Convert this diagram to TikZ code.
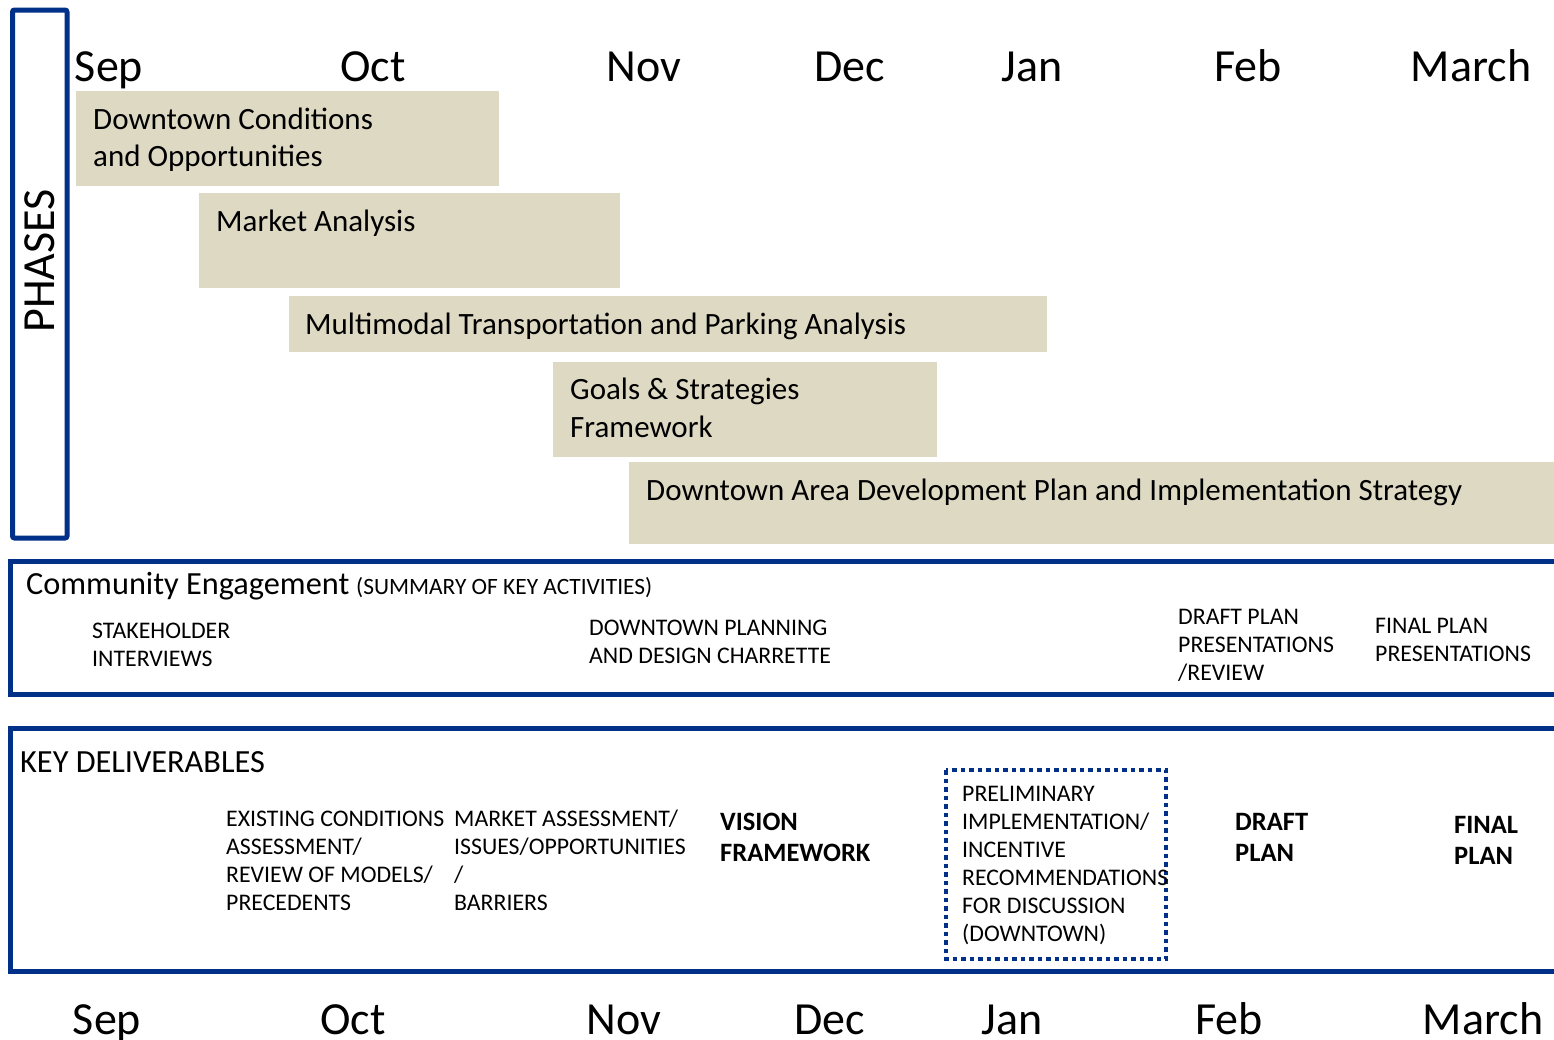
\documentclass[tikz,border=0pt]{standalone}
\usepackage{fontspec}
\setmainfont{Carlito}
\definecolor{frameblue}{RGB}{0,48,135}
\definecolor{phasefill}{RGB}{221,217,195}
\newcommand{\fsz}[2]{\fontsize{#1}{#2}\selectfont}
\begin{document}
\begin{tikzpicture}[x=1pt,y=-1pt,
  frame/.style={draw=frameblue,line width=5pt},
  month/.style={anchor=base,inner sep=0pt,font=\fsz{46}{50}},
  phasetext/.style={anchor=base west,inner sep=0pt,align=left,font=\fsz{31}{37.5}},
  small/.style={anchor=base west,inner sep=0pt,align=left,font=\fsz{23.8}{28}},
  bigbold/.style={anchor=base west,inner sep=0pt,align=left,font=\fsz{26.5}{31}\bfseries},
  heading/.style={anchor=base west,inner sep=0pt,font=\fsz{32.3}{36}}]
\useasboundingbox (0,0) rectangle (1554,1039);
% PHASES frame
\draw[frame,rounded corners=2pt] (12.5,10) rectangle (67,538);
\node[rotate=90,inner sep=0pt,font=\fsz{46}{50}] (phases) at (40,261) {PHASES};
% top months
\node[month] (msep) at (109,81) {Sep};
\node[month] (moct) at (373,81) {Oct};
\node[month] (mnov) at (644,81) {Nov};
\node[month] (mdec) at (850,81) {Dec};
\node[month] (mjan) at (1032,81) {Jan};
\node[month] (mfeb) at (1248,81) {Feb};
\node[month] (mmar) at (1471,81) {March};
% phase bars
\fill[phasefill] (76,91) rectangle (499,186);
\fill[phasefill] (199,193) rectangle (620,288);
\fill[phasefill] (289,296) rectangle (1047,352);
\fill[phasefill] (553,362) rectangle (937,457);
\fill[phasefill] (629,462) rectangle (1560,544);
\node[phasetext] (ph1a) at (93,129) {Downtown Conditions};
\node[phasetext] (ph1b) at (93,166) {and Opportunities};
\node[phasetext] (ph2) at (216,231) {Market Analysis};
\node[phasetext] (ph3) at (305,334) {Multimodal Transportation and Parking Analysis};
\node[phasetext] (ph4a) at (570,399) {Goals \& Strategies};
\node[phasetext] (ph4b) at (570,437) {Framework};
\node[phasetext] (ph5) at (646,500) {Downtown Area Development Plan and Implementation Strategy};
% community engagement
\draw[frame] (1570,561.5) -- (10,561.5) -- (10,694) -- (1570,694);
\node[heading] (ce) at (26,594) {Community Engagement};
\node[anchor=base west,inner sep=0pt,font=\fsz{23.4}{26}] (cesub) at (356,594) {(SUMMARY OF KEY ACTIVITIES)};
\node[small] (ce1a) at (92,638) {STAKEHOLDER};
\node[small] (ce1b) at (92,666) {INTERVIEWS};
\node[small] (ce2a) at (589,635) {DOWNTOWN PLANNING};
\node[small] (ce2b) at (589,663) {AND DESIGN CHARRETTE};
\node[small] (ce3a) at (1178,624) {DRAFT PLAN};
\node[small] (ce3b) at (1178,652) {PRESENTATIONS};
\node[small] (ce3c) at (1178,680) {/REVIEW};
\node[small] (ce4a) at (1375,633) {FINAL PLAN};
\node[small] (ce4b) at (1375,661) {PRESENTATIONS};
% key deliverables
\draw[frame] (1570,728) -- (10,728) -- (10,971) -- (1570,971);
\node[heading] (kd) at (20,772) {KEY DELIVERABLES};
\node[small] (kd1a) at (226,826) {EXISTING CONDITIONS};
\node[small] (kd1b) at (226,854) {ASSESSMENT/};
\node[small] (kd1c) at (226,882) {REVIEW OF MODELS/};
\node[small] (kd1d) at (226,910) {PRECEDENTS};
\node[small] (kd2a) at (454,826) {MARKET ASSESSMENT/};
\node[small] (kd2b) at (454,854) {ISSUES/OPPORTUNITIES};
\node[small] (kd2c) at (454,882) {/};
\node[small] (kd2d) at (454,910) {BARRIERS};
\node[bigbold] (kd3a) at (720,830) {VISION};
\node[bigbold] (kd3b) at (720,861) {FRAMEWORK};
\draw[draw=frameblue,line width=4pt,dash pattern=on 4.5pt off 4pt] (946,770) rectangle (1166,959);
\node[small] (kd4a) at (962,801) {PRELIMINARY};
\node[small] (kd4b) at (962,829) {IMPLEMENTATION/};
\node[small] (kd4c) at (962,857) {INCENTIVE};
\node[small] (kd4d) at (962,885) {RECOMMENDATIONS};
\node[small] (kd4e) at (962,913) {FOR DISCUSSION};
\node[small] (kd4f) at (962,941) {(DOWNTOWN)};
\node[bigbold] (kd5a) at (1235,830) {DRAFT};
\node[bigbold] (kd5b) at (1235,861) {PLAN};
\node[bigbold] (kd6a) at (1454,833) {FINAL};
\node[bigbold] (kd6b) at (1454,864) {PLAN};
% bottom months
\node[month] (bsep) at (107,1034) {Sep};
\node[month] (boct) at (353,1034) {Oct};
\node[month] (bnov) at (624,1034) {Nov};
\node[month] (bdec) at (830,1034) {Dec};
\node[month] (bjan) at (1012,1034) {Jan};
\node[month] (bfeb) at (1229,1034) {Feb};
\node[month] (bmar) at (1483,1034) {March};
\end{tikzpicture}
\end{document}
